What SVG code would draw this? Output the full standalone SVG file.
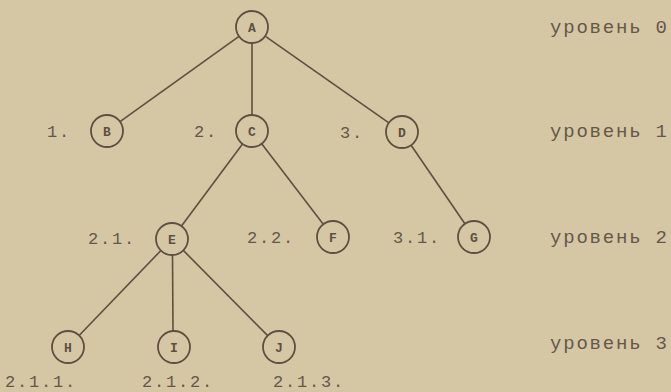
<svg xmlns="http://www.w3.org/2000/svg" width="671" height="392" viewBox="0 0 671 392">
<style>
.bg{fill:#d5c7a4}
.edge{stroke:#5e4f3f;stroke-width:1.6;fill:none}
.node circle{fill:none;stroke:#5e4f3f;stroke-width:1.8}
.node text{font-family:"Liberation Mono",monospace;font-size:13px;font-weight:bold;fill:#5e4f3f;text-anchor:middle}
.lbl{font-family:"Liberation Mono",monospace;font-size:17px;fill:#65574a;letter-spacing:1.8px}
.lvl{font-family:"Liberation Mono",monospace;font-size:19px;fill:#65574a;letter-spacing:1.8px}
</style>
<rect class="bg" x="0" y="0" width="671" height="392"/>
<g id="connectors">
<line class="edge" x1="239" y1="36.3" x2="120" y2="121.7"/>
<line class="edge" x1="252" y1="43" x2="252" y2="115"/>
<line class="edge" x1="265.1" y1="36.2" x2="388.9" y2="122.8"/>
<line class="edge" x1="242.5" y1="143.9" x2="181.5" y2="226.1"/>
<line class="edge" x1="261.7" y1="143.7" x2="323.3" y2="224.3"/>
<line class="edge" x1="411.1" y1="145.2" x2="464.9" y2="223.8"/>
<line class="edge" x1="160.9" y1="250.5" x2="79.1" y2="335.5"/>
<line class="edge" x1="172.5" y1="255" x2="173" y2="332"/>
<line class="edge" x1="183.3" y1="250.4" x2="267.7" y2="335.6"/>
</g>
<g id="A" class="node"><circle cx="252" cy="27" r="16"/><text x="252" y="32">A</text></g>
<g id="B" class="node"><circle cx="107" cy="131" r="16"/><text x="107" y="136">B</text></g>
<g id="C" class="node"><circle cx="252" cy="131" r="16"/><text x="252" y="136">C</text></g>
<g id="D" class="node"><circle cx="402" cy="132" r="16"/><text x="402" y="137">D</text></g>
<g id="E" class="node"><circle cx="172" cy="239" r="16"/><text x="172" y="244">E</text></g>
<g id="F" class="node"><circle cx="333" cy="237" r="16"/><text x="333" y="242">F</text></g>
<g id="G" class="node"><circle cx="474" cy="237" r="16"/><text x="474" y="242">G</text></g>
<g id="H" class="node"><circle cx="68" cy="347" r="16"/><text x="68" y="352">H</text></g>
<g id="I" class="node"><circle cx="174" cy="347" r="16"/><text x="174" y="352">I</text></g>
<g id="J" class="node"><circle cx="279" cy="347" r="16"/><text x="279" y="352">J</text></g>
<g id="labels">
<text class="lbl" x="47" y="137">1.</text>
<text class="lbl" x="194" y="137">2.</text>
<text class="lbl" x="340" y="138">3.</text>
<text class="lbl" x="88" y="244">2.1.</text>
<text class="lbl" x="247" y="243">2.2.</text>
<text class="lbl" x="393" y="243">3.1.</text>
<text class="lbl" x="5" y="387">2.1.1.</text>
<text class="lbl" x="142" y="387">2.1.2.</text>
<text class="lbl" x="273" y="387">2.1.3.</text>
<text class="lvl" x="550" y="33">уровень 0</text>
<text class="lvl" x="550" y="137">уровень 1</text>
<text class="lvl" x="550" y="243">уровень 2</text>
<text class="lvl" x="550" y="349">уровень 3</text>
</g>
</svg>
